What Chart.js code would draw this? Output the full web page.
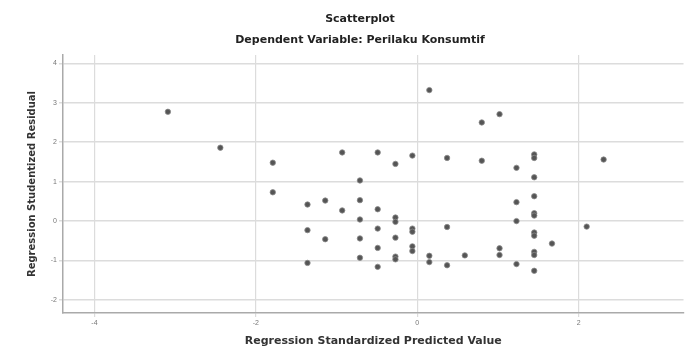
<!DOCTYPE html>
<html>
<head>
<meta charset="utf-8">
<script src="https://cdn.jsdelivr.net/npm/chart.js@4.4.0/dist/chart.umd.min.js"></script>
<style>
  body { margin: 0; background: #fff; }
  canvas { display: block; }
</style>
</head>
<body>
<canvas id="plot" width="687" height="351"></canvas>
<script>
const chartTitle = "Scatterplot";
const chartSubtitle = "Dependent Variable: Perilaku Konsumtif";
const xTitle = "Regression Standardized Predicted Value";
const yTitle = "Regression Studentized Residual";

const predicted = [
  -3.09, -2.44, -1.79, -1.79, -1.36, -1.36, -1.36, -1.14, -1.14, -0.93,
  -0.93, -0.71, -0.71, -0.71, -0.71, -0.71, -0.49, -0.49, -0.49, -0.49,
  -0.49, -0.27, -0.27, -0.27, -0.27, -0.27, -0.27, -0.06, -0.06, -0.06,
  -0.06, -0.06, 0.15, 0.15, 0.15, 0.37, 0.37, 0.37, 0.59, 0.80,
  0.80, 1.02, 1.02, 1.02, 1.23, 1.23, 1.23, 1.23, 1.45, 1.45,
  1.45, 1.45, 1.45, 1.45, 1.45, 1.45, 1.45, 1.45, 1.45, 1.67,
  2.10, 2.31
];
const residual = [
  2.77, 1.86, 1.48, 0.73, 0.42, -0.23, -1.06, 0.52, -0.46, 1.74,
  0.27, 1.03, 0.53, 0.04, -0.44, -0.93, 1.74, 0.30, -0.19, -0.68,
  -1.16, 1.45, 0.09, -0.02, -0.42, -0.90, -0.97, 1.66, -0.19, -0.27,
  -0.64, -0.76, 3.32, -0.88, -1.04, 1.60, -0.15, -1.12, -0.87, 2.50,
  1.53, 2.71, -0.69, -0.86, 1.35, 0.48, 0.00, -1.09, 1.69, 1.60,
  1.11, 0.63, 0.20, 0.14, -0.29, -0.37, -0.78, -0.86, -1.26, -0.57,
  -0.14, 1.56
];
const xTicks = [-4, -2, 0, 2];
const yTicks = [-2, -1, 0, 1, 2, 3, 4];

const points = predicted.map((x, i) => ({ x: x, y: residual[i] }));

const fontFamily = '"DejaVu Sans", "Liberation Sans", Arial, sans-serif';

// two title lines, centred a bit right of the canvas middle like the original
const titleLines = {
  id: 'titleLines',
  afterDraw(chart) {
    const ctx = chart.ctx;
    ctx.save();
    ctx.fillStyle = '#222';
    ctx.font = 'bold 11px ' + fontFamily;
    ctx.textAlign = 'center';
    ctx.textBaseline = 'middle';
    ctx.fillText(chartTitle, 360, 19);
    ctx.fillText(chartSubtitle, 360, 40);
    ctx.restore();
  }
};

const tickFont = { family: '"Liberation Sans", Arial, sans-serif', size: 7 };

new Chart(document.getElementById('plot').getContext('2d'), {
  type: 'scatter',
  data: {
    datasets: [{
      data: points,
      backgroundColor: '#555',
      borderColor: '#8a8a8a',
      borderWidth: 0.8,
      pointRadius: 2.7,
      pointHoverRadius: 2.7
    }]
  },
  options: {
    responsive: false,
    animation: false,
    layout: { padding: { top: 55, right: 0, left: 0, bottom: 0 } },
    plugins: {
      legend: { display: false },
      tooltip: { enabled: false }
    },
    scales: {
      x: {
        type: 'linear',
        min: -4.39,
        max: 3.30,
        afterBuildTicks: (s) => { s.ticks = xTicks.map(v => ({ value: v })); },
        afterFit: (s) => { s.height = 38; },
        grid: { color: '#dcdcdc', lineWidth: 1.2, tickLength: 4 },
        border: { color: '#aaa', width: 1.5 },
        ticks: { color: '#777', font: tickFont, padding: 2, maxRotation: 0 },
        title: {
          display: true, text: xTitle, color: '#333',
          font: { family: fontFamily, size: 11, weight: 'bold' },
          padding: { top: 0, bottom: 3 }
        }
      },
      y: {
        type: 'linear',
        min: -2.33,
        max: 4.21,
        afterBuildTicks: (s) => { s.ticks = yTicks.map(v => ({ value: v })); },
        afterFit: (s) => { s.width = 63; },
        grid: { color: '#dcdcdc', lineWidth: 1.5, tickLength: 4 },
        border: { color: '#aaa', width: 1.5 },
        ticks: { color: '#777', font: tickFont, padding: 2 },
        title: {
          display: true, text: yTitle, color: '#333',
          font: { family: fontFamily, size: 10, weight: 'bold' },
          padding: { top: 26, bottom: 0 }
        }
      }
    }
  },
  plugins: [titleLines]
});
</script>
</body>
</html>
